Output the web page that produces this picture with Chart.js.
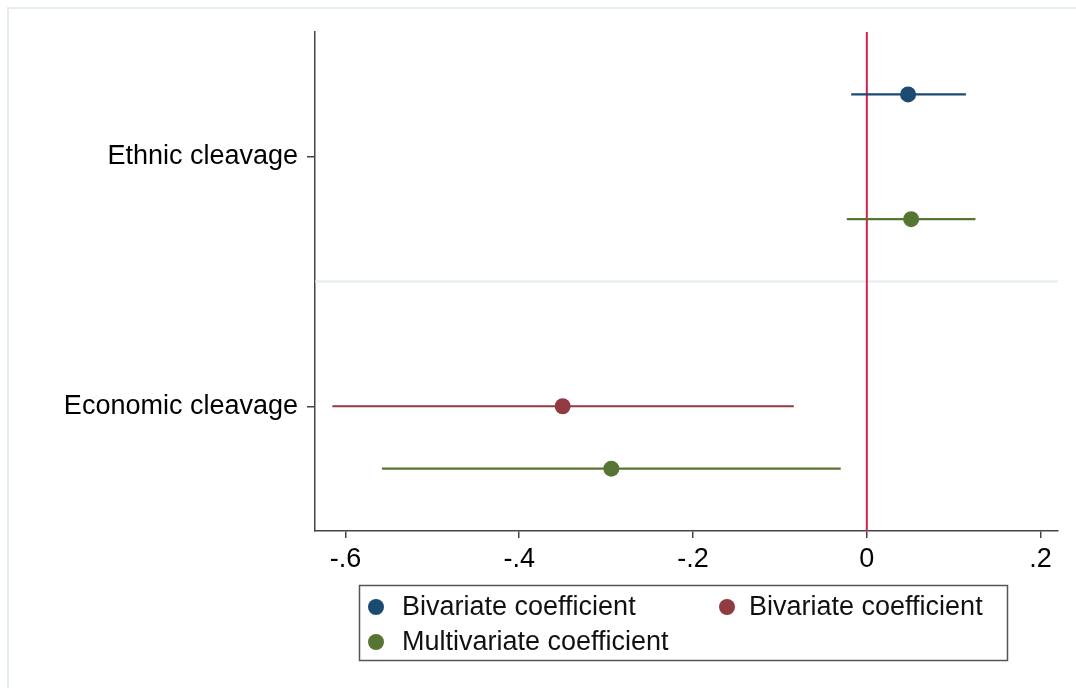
<!DOCTYPE html>
<html>
<head>
<meta charset="utf-8">
<script src="https://cdn.jsdelivr.net/npm/chart.js@4/dist/chart.umd.min.js"></script>
<style>
  html, body { margin: 0; padding: 0; background: #ffffff; }
  #wrap { position: relative; width: 1076px; height: 688px; }
  canvas { display: block; }
</style>
</head>
<body>
<div id="wrap"><canvas id="c" width="1076" height="688"></canvas></div>
<script>
// ---- data ----
const categories = ['Ethnic cleavage', 'Economic cleavage'];
const categoryRows = [2, 6];
const seriesLabels = ['Bivariate coefficient', 'Bivariate coefficient', 'Multivariate coefficient'];
const seriesColors = ['#1b4a72', '#913a40', '#567532'];

// Bivariate (ethnic)
const biv1Rows = [1];
const biv1Coef = [0.0475];
const biv1Lo = [-0.018];
const biv1Hi = [0.114];
// Bivariate (economic)
const biv2Rows = [6];
const biv2Coef = [-0.350];
const biv2Lo = [-0.615];
const biv2Hi = [-0.084];
// Multivariate
const multRows = [3, 7];
const multCoef = [0.051, -0.294];
const multLo = [-0.023, -0.558];
const multHi = [0.125, -0.030];

const xTicks = [-0.6, -0.4, -0.2, 0, 0.2];
const xTickLabels = ['-.6', '-.4', '-.2', '0', '.2'];
const xMin = -0.635, xMax = 0.22;
const yMin = 0, yMax = 8;
const groupSeparator = 4;
const refLineX = 0;

// ---- build datasets ----
const FONT = "'Liberation Sans', Arial, Helvetica, sans-serif";
const datasets = [];

function addSeries(rows, coef, lo, hi, color) {
  rows.forEach((r, i) => {
    datasets.push({
      type: 'line', data: [{x: lo[i], y: r}, {x: hi[i], y: r}],
      borderColor: color, borderWidth: 2.2, pointRadius: 0, showLine: true, order: 2
    });
  });
  datasets.push({
    type: 'scatter', data: rows.map((r, i) => ({x: coef[i], y: r})),
    backgroundColor: color, borderColor: color, borderWidth: 0, pointRadius: 8, order: 0
  });
}
// reference lines
datasets.push({
  type: 'line', data: [{x: xMin, y: groupSeparator}, {x: xMax, y: groupSeparator}],
  borderColor: '#e2edf1', borderWidth: 2, pointRadius: 0, order: 4
});
datasets.push({
  type: 'line', data: [{x: refLineX, y: yMin}, {x: refLineX, y: yMax}],
  borderColor: '#d4204f', borderWidth: 2, pointRadius: 0, order: 3
});
addSeries(biv1Rows, biv1Coef, biv1Lo, biv1Hi, seriesColors[0]);
addSeries(biv2Rows, biv2Coef, biv2Lo, biv2Hi, seriesColors[1]);
addSeries(multRows, multCoef, multLo, multHi, seriesColors[2]);

// ---- custom legend + outer frame ----
const legendPlugin = {
  id: 'boxLegend',
  afterDraw(chart) {
    const ctx = chart.ctx;
    ctx.save();
    // outer frame (light)
    ctx.strokeStyle = '#e3ecef';
    ctx.lineWidth = 2;
    ctx.beginPath();
    ctx.moveTo(8, 700); ctx.lineTo(8, 8); ctx.lineTo(1090, 8);
    ctx.stroke();
    // legend box
    ctx.strokeStyle = '#555555';
    ctx.lineWidth = 1.5;
    ctx.strokeRect(359.5, 585.5, 648, 75);
    const items = [
      {x: 376, y: 607, tx: 402},
      {x: 727, y: 607, tx: 749},
      {x: 376, y: 642, tx: 402}
    ];
    ctx.font = '27px ' + FONT;
    ctx.textBaseline = 'middle';
    ctx.textAlign = 'left';
    items.forEach((it, i) => {
      ctx.fillStyle = seriesColors[i];
      ctx.beginPath(); ctx.arc(it.x, it.y, 8, 0, Math.PI * 2); ctx.fill();
      ctx.fillStyle = '#111111';
      ctx.fillText(seriesLabels[i], it.tx, it.y + 1);
    });
    ctx.restore();
  }
};

new Chart(document.getElementById('c'), {
  type: 'scatter',
  data: { datasets },
  options: {
    responsive: false,
    animation: false,
    layout: { padding: { top: 32, right: 18, bottom: 0, left: 0 } },
    plugins: { legend: { display: false }, tooltip: { enabled: false } },
    scales: {
      x: {
        type: 'linear', min: xMin, max: xMax,
        afterBuildTicks: s => { s.ticks = xTicks.map(v => ({ value: v })); },
        afterFit: s => { s.height = 157; },
        ticks: {
          callback: (v) => xTickLabels[xTicks.indexOf(v)],
          font: { size: 27, family: FONT }, color: '#000', padding: 5,
          maxRotation: 0, autoSkip: false
        },
        grid: { drawOnChartArea: false, drawTicks: true, tickLength: 7, color: '#444', lineWidth: 1.5 },
        border: { display: true, color: '#444', width: 1.5 }
      },
      y: {
        type: 'linear', min: yMin, max: yMax, reverse: true,
        afterBuildTicks: s => { s.ticks = categoryRows.map(v => ({ value: v })); },
        afterFit: s => { s.width = 315; },
        ticks: {
          callback: (v) => categories[categoryRows.indexOf(v)],
          font: { size: 27, family: FONT }, color: '#000', padding: 9, autoSkip: false
        },
        grid: { drawOnChartArea: false, drawTicks: true, tickLength: 8, color: '#444', lineWidth: 1.5 },
        border: { display: true, color: '#444', width: 1.5 }
      }
    }
  },
  plugins: [legendPlugin]
});
</script>
</body>
</html>
